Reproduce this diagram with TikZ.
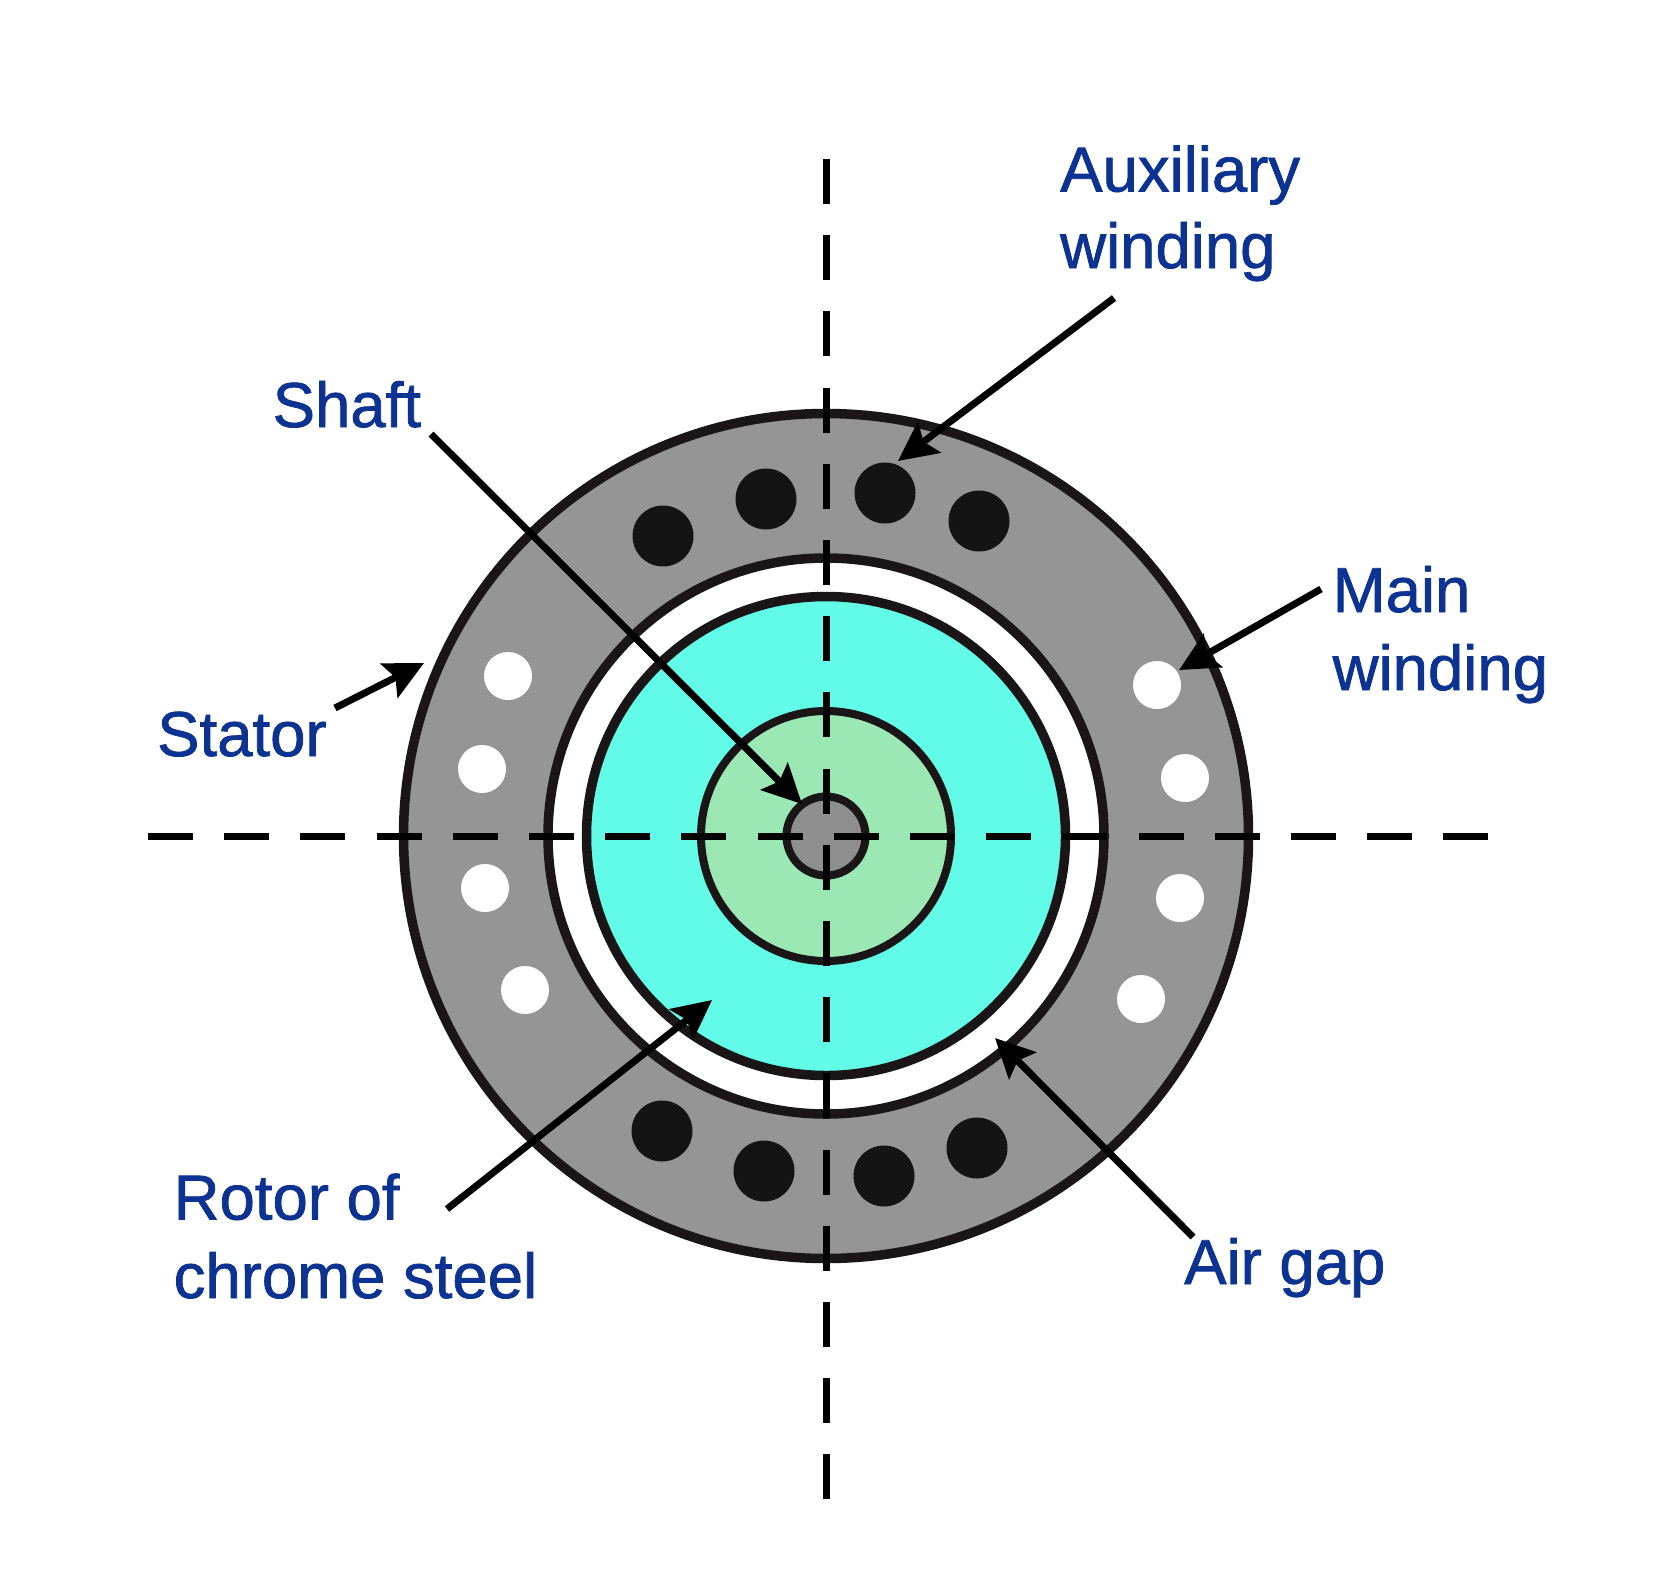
\documentclass[tikz,border=0pt]{standalone}
\usepackage{fontspec}
\setmainfont[FakeBold=1.2]{Liberation Sans}
\usetikzlibrary{arrows.meta}
\definecolor{labelblue}{HTML}{0C3292}
\definecolor{inkline}{HTML}{1A1516}
\definecolor{statorgray}{HTML}{959595}
\definecolor{rotorcyan}{HTML}{62FBE8}
\definecolor{coregreen}{HTML}{9BE8B5}
\definecolor{shaftgray}{HTML}{8F8F8F}
\tikzset{
  ringline/.style={draw=inkline,line width=9.5pt},
  axisline/.style={draw=black,line width=7pt,dash pattern=on 45pt off 31.2pt},
  leader/.style={draw=black,line width=7pt,-{Stealth[length=39pt,width=38pt,inset=7pt]}},
  partlabel/.style={text=labelblue,font=\fontsize{63.5}{76.5}\selectfont,align=left,inner sep=0pt,anchor=base west},
  blackslot/.style={fill=black!92},
  whiteslot/.style={fill=white},
}
\begin{document}
\begin{tikzpicture}[x=1pt,y=-1pt]
\useasboundingbox (0,0) rectangle (1680,1572);
\fill[white] (0,0) rectangle (1680,1572);
\coordinate (c) at (826,836);

% Machine cross-section, outermost ring first
\draw[ringline,fill=statorgray] (c) circle[radius=422.5pt];
\draw[ringline,fill=white] (c) circle[radius=278pt];
\draw[ringline,fill=rotorcyan] (c) circle[radius=239.5pt];
\draw[ringline,fill=coregreen,line width=8pt] (c) circle[radius=125pt];
\draw[ringline,fill=shaftgray,line width=8pt] (c) circle[radius=39.5pt];

% Auxiliary winding slots
\foreach \p in {(663,536),(766,499),(885,493),(979,521),(662,1131),(764,1171),(884,1176),(977,1148)}
  \fill[blackslot] \p circle[radius=30.5pt];
% Main winding slots
\foreach \p in {(508,676),(482,769),(485,888),(525,990),(1157,685),(1185,778),(1180,898),(1141,999)}
  \fill[whiteslot] \p circle[radius=24pt];

% Centre lines
\coordinate (axisT) at (826,159);
\coordinate (axisB) at (826,1500);
\coordinate (axisL) at (148,836);
\coordinate (axisR) at (1490,836);
\draw[axisline] (axisT) -- (axisB);
\draw[axisline] (axisL) -- (axisR);

% Labels (a two-line label sits on the baseline of its last line)
\node[partlabel] (aux) at (1060,268) {Auxiliary\\winding};
\node[partlabel] (shaft) at (272.5,427) {Shaft};
\node[partlabel] (main) at (1332.5,690) {Main\\[1.5pt]winding};
\node[partlabel] (stator) at (157,756) {Stator};
\node[partlabel] (rotor) at (173.5,1298) {Rotor of\\[2pt]chrome steel};
\node[partlabel] (gap) at (1184,1284) {Air gap};

% Leader ends
\coordinate (auxS) at (1114,298);    \coordinate (auxE) at (898,461);
\coordinate (shaftS) at (431,434);   \coordinate (shaftE) at (802,804);
\coordinate (mainS) at (1321,589);   \coordinate (mainE) at (1179,670);
\coordinate (statorS) at (335,708);  \coordinate (statorE) at (424,663);
\coordinate (rotorS) at (447,1209);  \coordinate (rotorE) at (712,1000);
\coordinate (gapS) at (1193,1237);   \coordinate (gapE) at (995,1038);

\draw[leader] (auxS) -- (auxE);
\draw[leader] (shaftS) -- (shaftE);
\draw[leader] (mainS) -- (mainE);
\draw[leader] (statorS) -- (statorE);
\draw[leader] (rotorS) -- (rotorE);
\draw[leader] (gapS) -- (gapE);
\end{tikzpicture}
\end{document}
